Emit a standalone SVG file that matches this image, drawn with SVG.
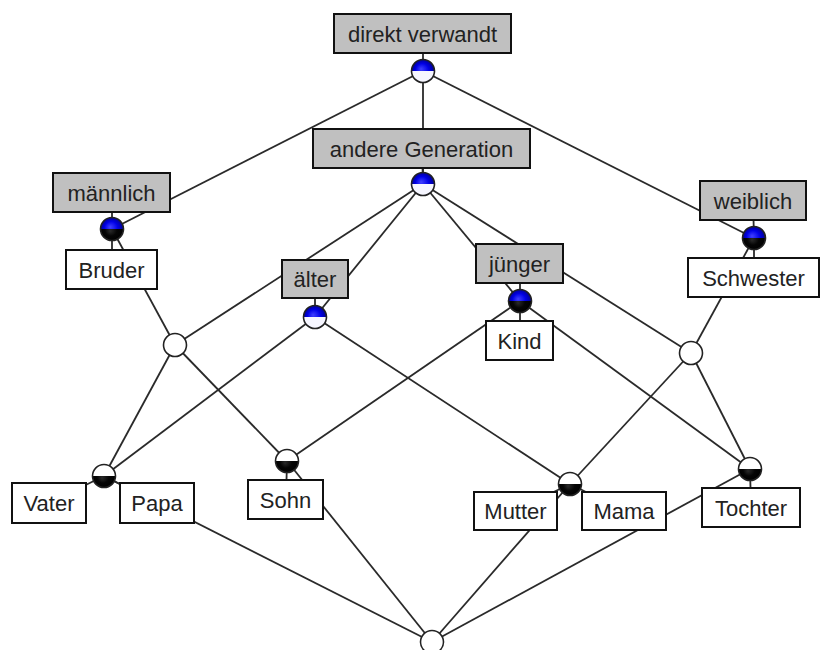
<svg xmlns="http://www.w3.org/2000/svg" xmlns:xlink="http://www.w3.org/1999/xlink" width="825" height="650" viewBox="0 0 825 650">
<style>
.edge{stroke:#2a2a2a;stroke-width:1.8;fill:none}
.lead{stroke:#2a2a2a;stroke-width:1.8;fill:none}
.attr rect{fill:#c0c0c0;stroke:#111;stroke-width:2}
.obj rect{fill:#fff;stroke:#111;stroke-width:2}
text{font-family:"Liberation Sans",Arial,sans-serif;font-size:22px;fill:#222;text-anchor:middle}
.ring{fill:none;stroke:#222;stroke-width:1.6}
.wfill{fill:#fff;stroke:none}
</style>
<defs>
<radialGradient id="gBlue" gradientUnits="userSpaceOnUse" cx="0" cy="0" r="12" fx="-2" fy="-2">
<stop offset="0" stop-color="#4040ff"/>
<stop offset="0.55" stop-color="#0000e6"/>
<stop offset="1" stop-color="#000088"/>
</radialGradient>
<radialGradient id="gBlack" gradientUnits="userSpaceOnUse" cx="0" cy="0" r="12" fx="-2" fy="2">
<stop offset="0" stop-color="#2a2a2a"/>
<stop offset="0.5" stop-color="#050505"/>
<stop offset="1" stop-color="#000"/>
</radialGradient>
<g id="nBW">
<path d="M-11.5,0 A11.5,11.5 0 0 1 11.5,0 Z" fill="url(#gBlue)"/>
<path d="M-11.5,0 A11.5,11.5 0 0 0 11.5,0 Z" fill="#f6f6ff"/>
<circle r="11.5" class="ring"/>
</g>
<g id="nBB">
<path d="M-11.5,0 A11.5,11.5 0 0 1 11.5,0 Z" fill="url(#gBlue)"/>
<path d="M-11.5,0 A11.5,11.5 0 0 0 11.5,0 Z" fill="url(#gBlack)"/>
<circle r="11.5" class="ring"/>
</g>
<g id="nWB">
<path d="M-11.5,0 A11.5,11.5 0 0 1 11.5,0 Z" fill="#fff"/>
<path d="M-11.5,0 A11.5,11.5 0 0 0 11.5,0 Z" fill="url(#gBlack)"/>
<circle r="11.5" class="ring"/>
</g>
<g id="nW">
<circle r="11.5" class="wfill"/>
<circle r="11.5" class="ring"/>
</g>
</defs>
<rect width="825" height="650" fill="#fff"/>
<g id="connectors">
<line class="edge" x1="423" y1="71" x2="423" y2="184"/>
<line class="edge" x1="423" y1="71" x2="112" y2="229"/>
<line class="edge" x1="423" y1="71" x2="754" y2="238"/>
<line class="edge" x1="423" y1="184" x2="315" y2="317"/>
<line class="edge" x1="423" y1="184" x2="175" y2="345"/>
<line class="edge" x1="423" y1="184" x2="520" y2="301"/>
<line class="edge" x1="423" y1="184" x2="691" y2="353"/>
<line class="edge" x1="112" y1="229" x2="175" y2="345"/>
<line class="edge" x1="754" y1="238" x2="691" y2="353"/>
<line class="edge" x1="315" y1="317" x2="104" y2="476"/>
<line class="edge" x1="315" y1="317" x2="570" y2="484"/>
<line class="edge" x1="520" y1="301" x2="287" y2="461"/>
<line class="edge" x1="520" y1="301" x2="750" y2="469"/>
<line class="edge" x1="175" y1="345" x2="104" y2="476"/>
<line class="edge" x1="175" y1="345" x2="287" y2="461"/>
<line class="edge" x1="691" y1="353" x2="570" y2="484"/>
<line class="edge" x1="691" y1="353" x2="750" y2="469"/>
<line class="edge" x1="104" y1="476" x2="432" y2="642"/>
<line class="edge" x1="287" y1="461" x2="432" y2="642"/>
<line class="edge" x1="570" y1="484" x2="432" y2="642"/>
<line class="edge" x1="750" y1="469" x2="432" y2="642"/>
<line class="lead" x1="423" y1="71" x2="423" y2="34"/>
<line class="lead" x1="423" y1="184" x2="422" y2="148"/>
<line class="lead" x1="112" y1="229" x2="112" y2="193"/>
<line class="lead" x1="112" y1="229" x2="112" y2="270"/>
<line class="lead" x1="754" y1="238" x2="753" y2="200"/>
<line class="lead" x1="754" y1="238" x2="754" y2="277"/>
<line class="lead" x1="315" y1="317" x2="315" y2="279"/>
<line class="lead" x1="520" y1="301" x2="520" y2="263"/>
<line class="lead" x1="520" y1="301" x2="520" y2="340"/>
<line class="lead" x1="104" y1="476" x2="49" y2="503"/>
<line class="lead" x1="104" y1="476" x2="157" y2="503"/>
<line class="lead" x1="287" y1="461" x2="286" y2="499"/>
<line class="lead" x1="570" y1="484" x2="515" y2="511"/>
<line class="lead" x1="570" y1="484" x2="624" y2="511"/>
<line class="lead" x1="750" y1="469" x2="751" y2="507"/>
</g>
<g id="node-top" transform="translate(423,71)"><use xlink:href="#nBW"/></g>
<g id="label-direkt" class="attr"><rect x="334" y="14" width="177" height="39"/><text x="422.5" y="41.5">direkt verwandt</text></g>
<g id="node-andere" transform="translate(423,184)"><use xlink:href="#nBW"/></g>
<g id="label-andere" class="attr"><rect x="313" y="129" width="217" height="39"/><text x="421.5" y="156.5">andere Generation</text></g>
<g id="node-maennlich" transform="translate(112,229)"><use xlink:href="#nBB"/></g>
<g id="label-maennlich" class="attr"><rect x="53" y="173" width="117" height="39"/><text x="111.5" y="200.5">männlich</text></g>
<g id="label-bruder" class="obj"><rect x="66" y="250" width="91" height="39"/><text x="111.5" y="277.5">Bruder</text></g>
<g id="node-weiblich" transform="translate(754,238)"><use xlink:href="#nBB"/></g>
<g id="label-weiblich" class="attr"><rect x="700" y="181" width="106" height="39"/><text x="753" y="208.5">weiblich</text></g>
<g id="label-schwester" class="obj"><rect x="688" y="258" width="131" height="39"/><text x="753.5" y="285.5">Schwester</text></g>
<g id="node-aelter" transform="translate(315,317)"><use xlink:href="#nBW"/></g>
<g id="label-aelter" class="attr"><rect x="282" y="260" width="66" height="38"/><text x="315" y="287">älter</text></g>
<g id="node-juenger" transform="translate(520,301)"><use xlink:href="#nBB"/></g>
<g id="label-juenger" class="attr"><rect x="476" y="244" width="87" height="39"/><text x="519.5" y="271.5">jünger</text></g>
<g id="label-kind" class="obj"><rect x="486" y="321" width="67" height="39"/><text x="519.5" y="348.5">Kind</text></g>
<g id="node-leftmid" transform="translate(175,345)"><use xlink:href="#nW"/></g>
<g id="node-rightmid" transform="translate(691,353)"><use xlink:href="#nW"/></g>
<g id="node-vater" transform="translate(104,476)"><use xlink:href="#nWB"/></g>
<g id="label-vater" class="obj"><rect x="12" y="483" width="74" height="40"/><text x="49" y="511">Vater</text></g>
<g id="label-papa" class="obj"><rect x="120" y="483" width="74" height="40"/><text x="157" y="511">Papa</text></g>
<g id="node-sohn" transform="translate(287,461)"><use xlink:href="#nWB"/></g>
<g id="label-sohn" class="obj"><rect x="248" y="480" width="75" height="39"/><text x="285.5" y="507.5">Sohn</text></g>
<g id="node-mutter" transform="translate(570,484)"><use xlink:href="#nWB"/></g>
<g id="label-mutter" class="obj"><rect x="474" y="492" width="83" height="38"/><text x="515.5" y="519">Mutter</text></g>
<g id="label-mama" class="obj"><rect x="582" y="492" width="84" height="38"/><text x="624" y="519">Mama</text></g>
<g id="node-tochter" transform="translate(750,469)"><use xlink:href="#nWB"/></g>
<g id="label-tochter" class="obj"><rect x="702" y="488" width="98" height="39"/><text x="751" y="515.5">Tochter</text></g>
<g id="node-bottom" transform="translate(432,642)"><use xlink:href="#nW"/></g>
</svg>
